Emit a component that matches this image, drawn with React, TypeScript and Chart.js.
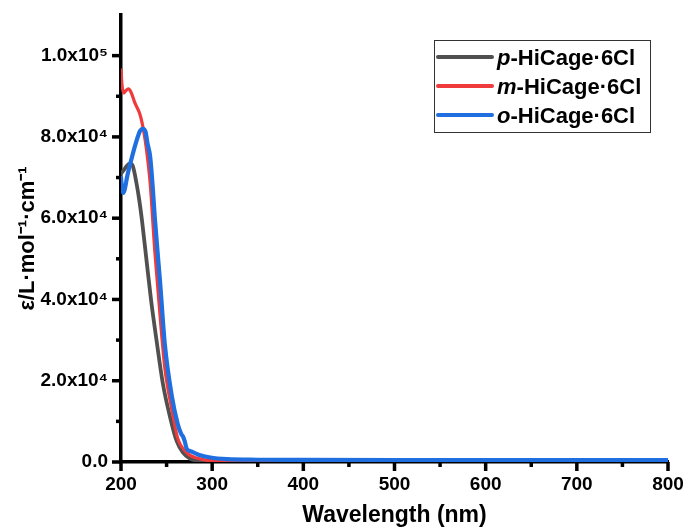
import React, { useEffect, useRef } from "react";
import { Chart, registerables } from "chart.js";

Chart.register(...registerables);

// ---- Data ----
const seriesNames = ["p", "m", "o"];
const seriesSuffix = "-HiCage·6Cl";
const seriesColors = ["#505050", "#ef3b3b", "#1f6fe0"];
const seriesWidths = [3.8, 3.2, 4.2];

const wavelengthP = [200, 203, 206, 210, 213, 217, 220, 223, 228, 233, 239, 246, 254, 261, 268, 276, 285, 300, 350, 400, 500, 600, 700, 800];
const absorbP = [71000, 71800, 72800, 73500, 72800, 68600, 64500, 59500, 49600, 39800, 29900, 19200, 10900, 5200, 2300, 800, 350, 150, 100, 80, 60, 50, 50, 50];

const wavelengthM = [200, 201, 203, 205, 208, 211, 215, 221, 225, 228, 232, 237, 243, 248, 256, 262, 272, 284, 300, 350, 400, 500, 600, 700, 800];
const absorbM = [96500, 93000, 90800, 91300, 91800, 91000, 88500, 85400, 81300, 76800, 68600, 52100, 35600, 23300, 12600, 6000, 2300, 900, 300, 150, 100, 80, 70, 60, 60];

const wavelengthO = [200, 201, 202.5, 204, 207, 212, 217, 221, 224, 227, 229, 232, 235, 237, 243, 248, 256, 262, 266, 268, 270, 272, 276, 285, 298, 316, 350, 400, 500, 600, 700, 800];
const absorbO = [70000, 67500, 66200, 67000, 70500, 75000, 79000, 81500, 82000, 81200, 78500, 75100, 67000, 60300, 43900, 29100, 15900, 9500, 6900, 6300, 5000, 3300, 2700, 1800, 1100, 700, 550, 500, 450, 450, 450, 450];

const xTicks = [200, 300, 400, 500, 600, 700, 800];
const yTicks = [0, 20000, 40000, 60000, 80000, 100000];
const yTickLabels = ["0.0", "2.0x10⁴", "4.0x10⁴", "6.0x10⁴", "8.0x10⁴", "1.0x10⁵"];
const xMinorStep = 50;
const yMinorStep = 10000;

const FONT = "'Liberation Sans', Arial, sans-serif";

const tickPlugin = {
  id: "customTicks",
  afterDraw(chart: any) {
    const { ctx, chartArea, scales } = chart;
    const xs = scales.x;
    const ys = scales.y;
    ctx.save();
    ctx.strokeStyle = "#000";
    ctx.lineWidth = 3.5;
    ctx.lineCap = "butt";
    for (let v = xs.min; v <= xs.max + 0.01; v += xMinorStep) {
      const px = xs.getPixelForValue(v);
      const major = xTicks.includes(v);
      const len = major ? 9 : 5;
      ctx.beginPath();
      ctx.moveTo(px, chartArea.bottom);
      ctx.lineTo(px, chartArea.bottom + len);
      ctx.stroke();
    }
    for (let v = 0; v <= 100000 + 1; v += yMinorStep) {
      const py = ys.getPixelForValue(v);
      const major = yTicks.includes(v);
      const len = major ? 9 : 5;
      ctx.beginPath();
      ctx.moveTo(chartArea.left, py);
      ctx.lineTo(chartArea.left - len, py);
      ctx.stroke();
    }
    ctx.restore();
  },
};

const legendPlugin = {
  id: "customLegend",
  afterDraw(chart: any) {
    const { ctx, chartArea } = chart;
    const boxW = 216;
    const boxH = 92;
    const bx = chartArea.right - 18 - boxW;
    const by = chartArea.top + 25;
    ctx.save();
    ctx.strokeStyle = "#333";
    ctx.lineWidth = 1;
    ctx.strokeRect(bx + 0.5, by + 0.5, boxW, boxH);
    seriesNames.forEach((name, i) => {
      const cy = by + 17 + i * 29;
      ctx.strokeStyle = seriesColors[i];
      ctx.lineWidth = 4;
      ctx.lineCap = "round";
      ctx.beginPath();
      ctx.moveTo(bx + 4, cy);
      ctx.lineTo(bx + 58, cy);
      ctx.stroke();
      ctx.fillStyle = "#000";
      ctx.textBaseline = "middle";
      ctx.textAlign = "left";
      ctx.font = `italic bold 22px ${FONT}`;
      const tx = bx + 63;
      ctx.fillText(name, tx, cy + 2);
      const w = ctx.measureText(name).width;
      ctx.font = `bold 22px ${FONT}`;
      ctx.fillText(seriesSuffix, tx + w, cy + 2);
    });
    ctx.restore();
  },
};

function toPoints(xs: number[], ys: number[]) {
  return xs.map((x, i) => ({ x, y: ys[i] }));
}

export default function App() {
  const ref = useRef<HTMLCanvasElement>(null);
  useEffect(() => {
    if (!ref.current) return;
    const chart = new Chart(ref.current, {
      type: "line",
      data: {
        datasets: [
          { label: "p-HiCage·6Cl", data: toPoints(wavelengthP, absorbP), borderColor: seriesColors[0], borderWidth: seriesWidths[0], order: 3 },
          { label: "m-HiCage·6Cl", data: toPoints(wavelengthM, absorbM), borderColor: seriesColors[1], borderWidth: seriesWidths[1], order: 2 },
          { label: "o-HiCage·6Cl", data: toPoints(wavelengthO, absorbO), borderColor: seriesColors[2], borderWidth: seriesWidths[2], order: 1 },
        ].map((d) => ({
          ...d,
          pointRadius: 0,
          fill: false,
          cubicInterpolationMode: "monotone" as const,
          borderJoinStyle: "round" as const,
          borderCapStyle: "round" as const,
        })),
      },
      options: {
        animation: false,
        responsive: false,
        maintainAspectRatio: false,
        layout: { padding: { top: 15, right: 19, left: 0, bottom: 0 } },
        plugins: { legend: { display: false }, tooltip: { enabled: false } },
        scales: {
          x: {
            type: "linear",
            min: 200,
            max: 800,
            grid: { display: false, drawTicks: false },
            border: { display: true, color: "#000", width: 3.5 },
            afterBuildTicks: (s: any) => {
              s.ticks = xTicks.map((v) => ({ value: v }));
            },
            afterFit: (s: any) => {
              s.height = 67;
              s.paddingLeft = 0;
              s.paddingRight = 0;
            },
            ticks: {
              padding: 11,
              color: "#000",
              maxRotation: 0,
              autoSkip: false,
              font: { family: FONT, size: 19, weight: "bold" },
              callback: (v: any) => String(v),
            },
            title: {
              display: true,
              text: "Wavelength (nm)",
              color: "#000",
              font: { family: FONT, size: 23, weight: "bold" },
              padding: { top: 0, bottom: 0 },
            },
          },
          y: {
            type: "linear",
            min: 0,
            max: 110000,
            grid: { display: false, drawTicks: false },
            border: { display: true, color: "#000", width: 3.5 },
            afterBuildTicks: (s: any) => {
              s.ticks = yTicks.map((v) => ({ value: v }));
            },
            afterFit: (s: any) => {
              s.width = 121;
              s.paddingTop = 0;
              s.paddingBottom = 0;
            },
            ticks: {
              padding: 13,
              color: "#000",
              autoSkip: false,
              font: { family: FONT, size: 19, weight: "bold" },
              callback: (v: any) => {
                const i = yTicks.indexOf(Number(v));
                return i >= 0 ? yTickLabels[i] : "";
              },
            },
            title: {
              display: true,
              text: "ε/L·mol⁻¹·cm⁻¹",
              color: "#000",
              font: { family: FONT, size: 22, weight: "bold" },
              padding: { top: 15, bottom: 0 },
            },
          },
        },
      },
      plugins: [tickPlugin, legendPlugin],
    });
    return () => chart.destroy();
  }, []);
  return (
    <div style={{ position: "fixed", left: 0, top: 0, width: 687, height: 529, background: "#fff" }}>
      <canvas ref={ref} width={687} height={529} style={{ width: 687, height: 529, display: "block" }} />
    </div>
  );
}
